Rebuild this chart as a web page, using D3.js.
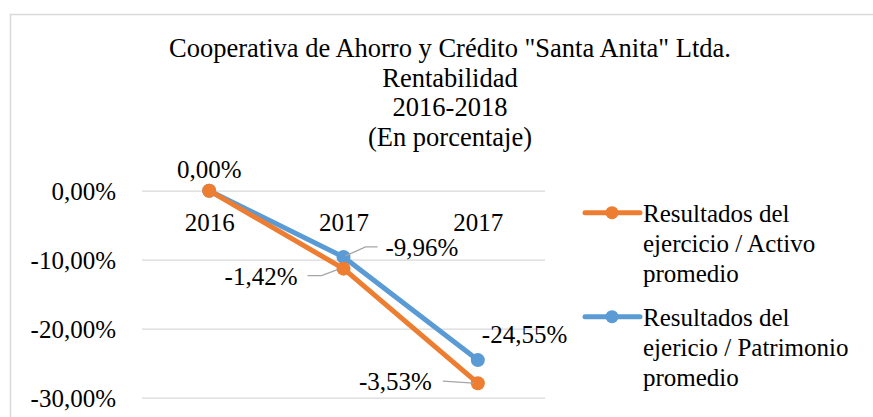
<!DOCTYPE html>
<html>
<head>
<meta charset="utf-8">
<script src="https://cdn.jsdelivr.net/npm/d3@7"></script>
<style>
  html, body { margin: 0; padding: 0; background: #fff; }
  svg { display: block; }
  text { font-family: "Liberation Serif", "Times New Roman", serif; fill: #000; }
</style>
</head>
<body>
<svg id="chart" width="873" height="417"></svg>
<script>
// ---- data ----
const titleLines = ['Cooperativa de Ahorro y Crédito "Santa Anita" Ltda.', 'Rentabilidad', '2016-2018', '(En porcentaje)'];
const categories = ["2016", "2017", "2017"];
const yTicks = [0, -10, -20, -30];
const seriesNames = ["Resultados del ejercicio / Activo promedio", "Resultados del ejericio / Patrimonio promedio"];
const activoValues = [0, -11.3, -27.9];
const patrimonioValues = [0, -9.6, -24.55];
const activoLabels = ["0,00%", "-1,42%", "-3,53%"];
const patrimonioLabels = ["", "-9,96%", "-24,55%"];
const legendLines = [["Resultados del", "ejercicio / Activo", "promedio"], ["Resultados del", "ejericio / Patrimonio", "promedio"]];

const colors = ["#ED7D31", "#5B9BD5"];
const FONT = '"Liberation Serif", "Times New Roman", serif';
const svg = d3.select("#chart");

// border
svg.append("rect").attr("x", 10.5).attr("y", 14.5).attr("width", 900).attr("height", 500)
  .attr("fill", "none").attr("stroke", "#D9D9D9").attr("stroke-width", 1.5);

// title
const title = svg.append("text").attr("text-anchor", "middle").style("font-size", "26.5px").style("font-family", FONT);
titleLines.forEach((t, i) => {
  title.append("tspan").attr("x", 450).attr("y", 57 + i * 29.5).text(t);
});

// scales
const x = d3.scalePoint().domain(d3.range(categories.length)).range([142, 545]).padding(0.5);
const y = d3.scaleLinear().domain([-30, 0]).range([397.7, 190.7]);

// gridlines + y labels
const fmt = d => (d < 0 ? "-" : "") + d3.format(".2f")(Math.abs(d)).replace(".", ",") + "%";
const yAxis = d3.axisLeft(y).tickValues(yTicks).tickSize(-(545 - 142)).tickFormat(fmt);
const gy = svg.append("g").attr("transform", "translate(142,0)").call(yAxis);
gy.select(".domain").remove();
gy.selectAll(".tick line").attr("stroke", "#D9D9D9").attr("stroke-width", 1.3);
gy.selectAll(".tick text").attr("x", -26).attr("dy", "0.35em")
  .style("font-size", "25px").style("font-family", FONT).attr("fill", "#000");

// category labels (drawn at the zero line)
const xAxis = d3.axisBottom(x).tickSize(0).tickFormat(i => categories[i]);
const gx = svg.append("g").attr("transform", `translate(0,${y(0)})`).call(xAxis);
gx.select(".domain").remove();
gx.selectAll(".tick text").attr("y", 40).attr("dy", 0)
  .style("font-size", "25px").style("font-family", FONT).attr("fill", "#000");

// lines & markers
const line = d3.line().x((d, i) => x(i)).y(d => y(d));
const allSeries = [activoValues, patrimonioValues];
[1, 0].forEach(s => {
  svg.append("path").datum(allSeries[s]).attr("d", line)
    .attr("fill", "none").attr("stroke", colors[s]).attr("stroke-width", 5).attr("stroke-linejoin", "round");
});
[1, 0].forEach(s => {
  svg.selectAll(null).data(allSeries[s]).enter().append("circle")
    .attr("cx", (d, i) => x(i)).attr("cy", d => y(d)).attr("r", 7).attr("fill", colors[s]);
});

// leader lines
const leaders = [
  [[x(1) - 6, y(activoValues[1]) + 1], [x(1) - 22, y(activoValues[1]) + 7], [x(1) - 36, y(activoValues[1]) + 7]],
  [[x(1) + 2, y(patrimonioValues[1]) - 1], [x(1) + 22, y(patrimonioValues[1]) - 10], [x(1) + 34, y(patrimonioValues[1]) - 10]],
  [[x(2) - 4, y(activoValues[2])], [x(2) - 35, y(activoValues[2]) - 2]]
];
leaders.forEach(p => {
  svg.append("path").attr("d", d3.line()(p)).attr("fill", "none").attr("stroke", "#A6A6A6").attr("stroke-width", 1.3);
});

// data labels
const lbl = (t, px, py, anchor) => svg.append("text").attr("x", px).attr("y", py)
  .attr("text-anchor", anchor).style("font-size", "25px").style("font-family", FONT).text(t);
lbl(activoLabels[0], x(0), y(activoValues[0]) - 13, "middle");
lbl(activoLabels[1], x(1) - 46, y(activoValues[1]) + 16, "end");
lbl(activoLabels[2], x(2) - 46, y(activoValues[2]) + 7, "end");
lbl(patrimonioLabels[1], x(1) + 42, y(patrimonioValues[1]) - 1, "start");
lbl(patrimonioLabels[2], x(2) + 4, y(patrimonioValues[2]) - 17, "start");

// legend
const legTop = [212.7, 316.7];
legTop.forEach((ly, s) => {
  svg.append("line").attr("x1", 585).attr("x2", 640).attr("y1", ly).attr("y2", ly)
    .attr("stroke", colors[s]).attr("stroke-width", 5).attr("stroke-linecap", "round");
  svg.append("circle").attr("cx", 612).attr("cy", ly).attr("r", 6.5).attr("fill", colors[s]);
  const t = svg.append("text").style("font-size", "25px").style("font-family", FONT);
  legendLines[s].forEach((l, i) => t.append("tspan").attr("x", 643).attr("y", ly + 9 + i * 30).text(l));
});
</script>
</body>
</html>
